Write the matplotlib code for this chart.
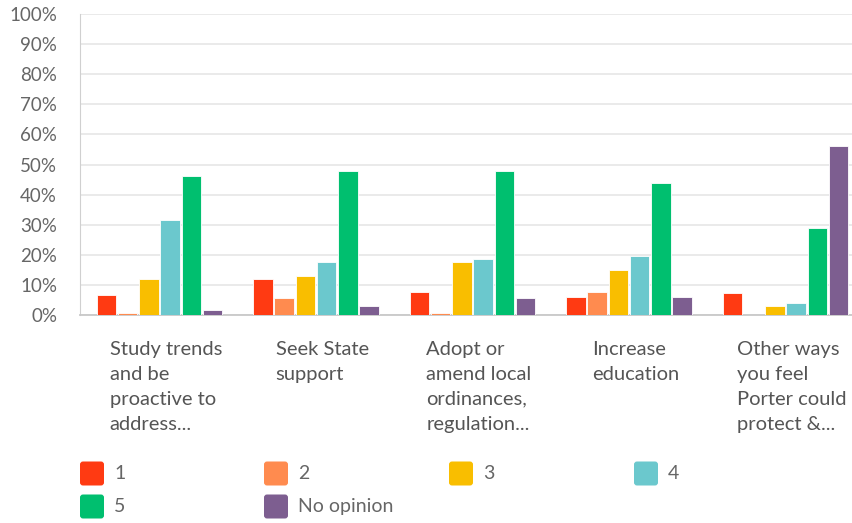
import numpy as np
import matplotlib
matplotlib.use('Agg')
import matplotlib.pyplot as plt
from matplotlib.patches import FancyBboxPatch

plt.rcParams['font.family'] = ['Lato', 'DejaVu Sans']

categories = ['Study trends\nand be\nproactive to\naddress...',
              'Seek State\nsupport',
              'Adopt or\namend local\nordinances,\nregulation...',
              'Increase\neducation',
              'Other ways\nyou feel\nPorter could\nprotect &...']
series = ['1', '2', '3', '4', '5', 'No opinion']
colors = ['#FF3A12', '#FF8B4F', '#F9BE00', '#6BC8CD', '#00BF6F', '#7D5E90']
values = [
    [6.5, 12.0, 7.6, 6.0, 7.2],     # 1
    [0.8, 5.6, 0.8, 7.6, 0.0],      # 2
    [12.0, 13.0, 17.7, 15.0, 2.9],  # 3
    [31.5, 17.7, 18.7, 19.7, 4.0],  # 4
    [46.2, 47.7, 47.7, 44.0, 28.8], # 5
    [1.8, 3.0, 5.6, 6.0, 56.2],     # No opinion
]
yticks = [0, 10, 20, 30, 40, 50, 60, 70, 80, 90, 100]

W, H = 852, 523
fig = plt.figure(figsize=(W / 100, H / 100), dpi=100)
ax = fig.add_axes([80 / W, 1 - 315 / H, 1 - 80 / W, (315 - 14) / H])

x = np.arange(len(categories))
step = 0.1355
bw = 0.125
for i, (s, c) in enumerate(zip(series, colors)):
    ax.bar(x + (i - 2.5) * step, values[i], width=bw, color=c,
           edgecolor='white', linewidth=0.6, zorder=3)

ax.set_xlim(-0.508, 4.425)
ax.set_ylim(0, 100)
ax.set_yticks(yticks)
ax.set_yticklabels([f'{t}%' for t in yticks], fontsize=13.5, color='#666666')
ax.set_xticks([])
ax.grid(axis='y', color='#e6e6e6', linewidth=1.2, zorder=0)
for side in ['top', 'right']:
    ax.spines[side].set_visible(False)
ax.spines['left'].set_color('#d0d0d0')
ax.spines['bottom'].set_color('#c8c8c8')
ax.spines['bottom'].set_linewidth(1.3)
ax.tick_params(axis='y', length=0, pad=16.5)

for xi, lab in zip(x, categories):
    ax.text(xi + 0.04, -0.085, lab, transform=ax.get_xaxis_transform(),
            ha='center', va='top', multialignment='left',
            fontsize=14.5, color='#555555', linespacing=1.57)

# legend drawn in pixel coordinates
lax = fig.add_axes([0, 0, 1, 1], zorder=-1)
lax.set_xlim(0, W)
lax.set_ylim(H, 0)
lax.axis('off')
leg_x = [80, 264, 449, 634]
leg_y = [473.5, 506.5]
for i, (s, c) in enumerate(zip(series, colors)):
    col, row = i % 4, i // 4
    x0 = leg_x[col]
    y0 = leg_y[row]
    lax.add_patch(FancyBboxPatch((x0 + 2, y0 - 10), 20, 20,
                                 boxstyle='round,pad=2,rounding_size=3',
                                 facecolor=c, edgecolor='none'))
    lax.text(x0 + 34, y0, s, ha='left', va='center', fontsize=14,
             color='#666666')

fig.savefig('out.png', dpi=100)
